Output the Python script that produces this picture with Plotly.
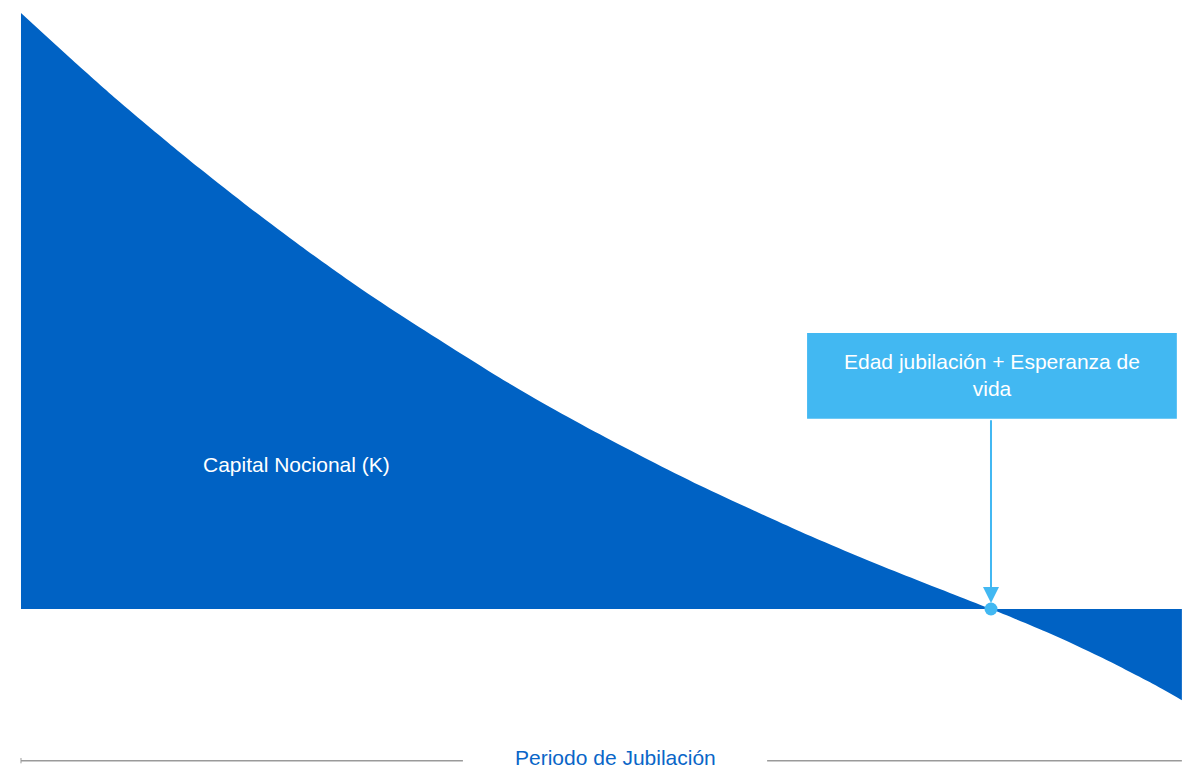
import plotly.graph_objects as go

# Data: years of retirement vs notional capital (K = 100 at start)
years = [0, 1.26, 2.47, 3.32, 4.61, 5.90, 7.19, 8.48, 9.77, 11.06, 12.34, 13.63,
         14.92, 16.21, 17.50, 18.79, 20.08, 21.37, 22.65, 23.94, 25.0, 26.52,
         27.81, 29.10, 29.92]
capital = [100, 92.5, 85.5, 80.8, 73.9, 67.3, 61.0, 55.0, 49.35, 44.0, 38.8, 33.9,
           29.3, 24.9, 20.7, 16.8, 13.0, 9.4, 6.0, 2.7, 0.0, -4.1,
           -8.0, -12.3, -15.3]

life_expectancy_year = 25.0
area_label = "Capital Nocional (K)"
box_label = "Edad jubilación + Esperanza de<br>vida"
axis_label = "Periodo de Jubilación"

DARK_BLUE = "#0062c4"
LIGHT_BLUE = "#42b8f2"
FONT = "Liberation Sans, Arial, sans-serif"

fig = go.Figure()
fig.add_trace(go.Scatter(
    x=years, y=capital, mode="lines",
    line=dict(color=DARK_BLUE, width=0, shape="spline", smoothing=0.8),
    fill="tozeroy", fillcolor=DARK_BLUE, hoverinfo="skip", showlegend=False))

fig.add_trace(go.Scatter(
    x=[life_expectancy_year], y=[0], mode="markers",
    marker=dict(color=LIGHT_BLUE, size=13), hoverinfo="skip", showlegend=False))

box_x0, box_x1, box_y0, box_y1 = 20.26, 29.79, 31.9, 46.3
fig.add_shape(type="rect", x0=box_x0, x1=box_x1, y0=box_y0, y1=box_y1,
              fillcolor=LIGHT_BLUE, line=dict(width=0), layer="above")

annotations = [
    dict(x=(box_x0 + box_x1) / 2, y=(box_y0 + box_y1) / 2 + 0.1, text=box_label, showarrow=False,
         font=dict(family=FONT, size=21, color="white"), align="center"),
    dict(x=life_expectancy_year, y=0, ax=life_expectancy_year, ay=box_y0, axref="x", ayref="y",
         text="", showarrow=True, arrowhead=2, arrowsize=1.6, arrowwidth=2,
         arrowcolor=LIGHT_BLUE, standoff=6),
    dict(x=7.1, y=24.2, text=area_label, showarrow=False,
         font=dict(family=FONT, size=21, color="white")),
    dict(x=15.31, y=-24.9, text=axis_label, showarrow=False, borderpad=0,
         font=dict(family=FONT, size=21, color="#0a66c8")),
]

# bottom axis line segments
GRAY = "#9a9a9a"
fig.add_shape(type="line", x0=0, x1=11.39, y0=-25.45, y1=-25.45, line=dict(color=GRAY, width=1.5))
fig.add_shape(type="line", x0=19.23, x1=29.92, y0=-25.45, y1=-25.45, line=dict(color=GRAY, width=1.5))
fig.add_shape(type="line", x0=0, x1=0, y0=-25.0, y1=-25.9, line=dict(color=GRAY, width=1))

fig.update_layout(
    width=1182, height=769,
    margin=dict(l=0, r=0, t=0, b=0),
    paper_bgcolor="white", plot_bgcolor="white",
    xaxis=dict(range=[-0.541, 29.923], visible=False, fixedrange=True),
    yaxis=dict(range=[-26.85, 102.18], visible=False, fixedrange=True),
    annotations=annotations,
    showlegend=False,
)

fig.write_html("out.html", config={"displayModeBar": False})
